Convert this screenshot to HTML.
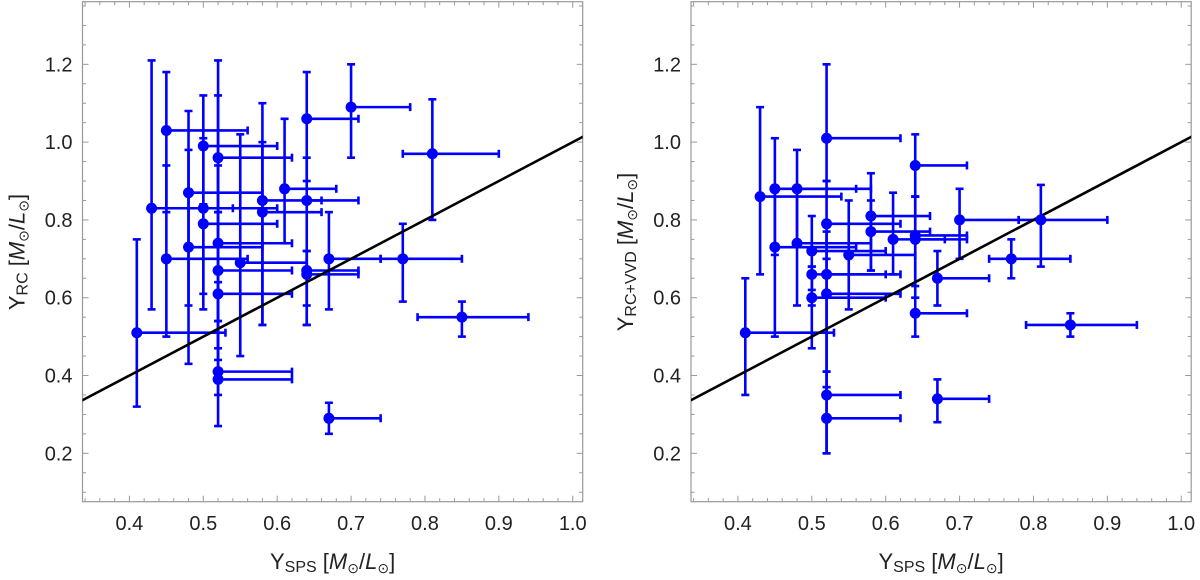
<!DOCTYPE html>
<html><head><meta charset="utf-8"><style>
html,body{margin:0;padding:0;background:#fff;}
svg{display:block;font-family:"Liberation Sans",sans-serif;}
</style></head><body>
<svg id="chart" width="1200" height="580" viewBox="0 0 1200 580"></svg>
<script>
// Left panel data
const leftX    = [0.41,0.43,0.45,0.45,0.48,0.48,0.50,0.50,0.50,0.52,0.52,0.52,0.52,0.52,0.52,0.55,0.58,0.58,0.61,0.64,0.64,0.64,0.64,0.67,0.67,0.70,0.77,0.81,0.85];
const leftY    = [0.51,0.83,1.03,0.70,0.87,0.73,0.99,0.83,0.79,0.96,0.74,0.67,0.61,0.41,0.39,0.69,0.85,0.82,0.88,1.06,0.85,0.67,0.66,0.70,0.29,1.09,0.70,0.97,0.55];
const leftYlo  = [0.32,0.57,0.82,0.50,0.58,0.43,0.84,0.57,0.61,0.82,0.54,0.47,0.44,0.35,0.27,0.45,0.53,0.53,0.74,0.90,0.58,0.53,0.53,0.57,0.25,0.96,0.59,0.80,0.50];
const leftYhi  = [0.75,1.21,1.18,0.94,1.08,0.98,1.12,1.01,0.84,1.21,0.94,1.12,0.82,0.64,0.54,1.02,1.10,1.00,1.06,1.18,0.96,0.72,0.72,0.82,0.33,1.20,0.79,1.11,0.59];
const leftXlo  = [0.41,0.43,0.45,0.45,0.48,0.48,0.50,0.50,0.50,0.52,0.52,0.52,0.52,0.52,0.52,0.55,0.58,0.58,0.61,0.64,0.64,0.64,0.64,0.67,0.67,0.70,0.74,0.77,0.79];
const leftXhi  = [0.53,0.54,0.56,0.56,0.58,0.58,0.60,0.60,0.60,0.62,0.62,0.62,0.62,0.62,0.62,0.64,0.66,0.66,0.68,0.71,0.71,0.71,0.71,0.74,0.74,0.78,0.85,0.90,0.94];
// Right panel data
const rightX   = [0.41,0.43,0.45,0.45,0.48,0.48,0.50,0.50,0.50,0.52,0.52,0.52,0.52,0.52,0.52,0.55,0.58,0.58,0.61,0.64,0.64,0.64,0.64,0.67,0.67,0.70,0.77,0.81,0.85];
const rightY   = [0.51,0.86,0.88,0.73,0.88,0.74,0.72,0.66,0.60,1.01,0.79,0.66,0.61,0.35,0.29,0.71,0.81,0.77,0.75,0.94,0.76,0.75,0.56,0.65,0.34,0.80,0.70,0.80,0.53];
const rightYlo = [0.35,0.66,0.71,0.50,0.74,0.58,0.62,0.58,0.47,0.90,0.70,0.41,0.37,0.20,0.20,0.57,0.67,0.67,0.66,0.86,0.63,0.60,0.50,0.58,0.28,0.70,0.65,0.68,0.50];
const rightYhi = [0.65,1.09,1.01,0.88,0.98,0.88,0.81,0.68,0.68,1.20,0.90,0.77,0.70,0.41,0.37,0.85,0.92,0.85,0.87,1.02,0.86,0.86,0.60,0.72,0.39,0.88,0.75,0.89,0.56];
const rightXlo = [0.41,0.43,0.45,0.45,0.48,0.48,0.50,0.50,0.50,0.52,0.52,0.52,0.52,0.52,0.52,0.55,0.58,0.58,0.61,0.64,0.64,0.64,0.64,0.67,0.67,0.70,0.74,0.78,0.79];
const rightXhi = [0.53,0.54,0.56,0.56,0.58,0.58,0.60,0.60,0.60,0.62,0.62,0.62,0.62,0.62,0.62,0.64,0.66,0.66,0.68,0.71,0.71,0.71,0.71,0.74,0.74,0.78,0.85,0.90,0.94];
const xTicks = [0.4,0.5,0.6,0.7,0.8,0.9,1.0];
const xTickLabels = ["0.4","0.5","0.6","0.7","0.8","0.9","1.0"];
const yTicks = [0.2,0.4,0.6,0.8,1.0,1.2];
const yTickLabels = ["0.2","0.4","0.6","0.8","1.0","1.2"];
const fitLine = [0.3,1.05]; // y = x

const NS="http://www.w3.org/2000/svg";
const svg=document.getElementById('chart');
function mk(tag,attrs,parent){const e=document.createElementNS(NS,tag);for(const k in attrs)e.setAttribute(k,attrs[k]);(parent||svg).appendChild(e);return e;}

const XMIN=0.3365,XMAX=1.0135,YMIN=0.0756,YMAX=1.361;
const TITLE='[</tspan><tspan font-style="italic">M</tspan><tspan font-size="14" dy="4">⊙</tspan><tspan dy="-4">/</tspan><tspan font-style="italic">L</tspan><tspan font-size="14" dy="4">⊙</tspan><tspan dy="-4">]</tspan>';
function panel(left,name,X,Y,Ylo,Yhi,Xlo,Xhi,ylabelSub){
  const L=left,R=left+500.2,T=1.7,B=501.7;
  const sx=v=>L+(v-XMIN)/(XMAX-XMIN)*(R-L);
  const sy=v=>B-(v-YMIN)/(YMAX-YMIN)*(B-T);
  const g=mk('g',{});
  
  
  const clip=mk('clipPath',{id:'c'+name},g);
  mk('rect',{x:L,y:T,width:R-L,height:B-T},clip);
  for(let i=0;i<=40;i++){const v=0.34+i*0.02; if(v>XMAX) break; const x=sx(v);
    const major=Math.abs(v*10-Math.round(v*10))<1e-6; const len=major?6:3.5;
    mk('line',{x1:x,y1:B,x2:x,y2:B-len,stroke:'#999','stroke-width':1},g);
    mk('line',{x1:x,y1:T,x2:x,y2:T+len,stroke:'#999','stroke-width':1},g);}
  for(let i=0;i<=30;i++){const v=0.1+i*0.05; if(v>YMAX) break; const y=sy(v);
    const major=Math.abs(v*5-Math.round(v*5))<1e-6; const len=major?6:3.5;
    mk('line',{x1:L,y1:y,x2:L+len,y2:y,stroke:'#999','stroke-width':1},g);
    mk('line',{x1:R,y1:y,x2:R-len,y2:y,stroke:'#999','stroke-width':1},g);}
  const fr=mk('rect',{x:L,y:T,width:R-L,height:B-T,fill:'none',stroke:'#999','stroke-width':1.2},g);
  
  
  xTicks.forEach((v,i)=>{const t=mk('text',{x:sx(v),y:530,'font-size':20,'text-anchor':'middle',fill:'#222'},g);t.textContent=xTickLabels[i];
    
    });
  yTicks.forEach((v,i)=>{const t=mk('text',{x:L-10,y:sy(v)+7,'font-size':20,'text-anchor':'end',fill:'#222'},g);t.textContent=yTickLabels[i];
    
    });
  const xt=mk('text',{x:(L+R)/2,y:569,'font-size':22,'text-anchor':'middle',fill:'#222'},g);
  xt.innerHTML='Υ<tspan font-size="16" dy="3">SPS</tspan><tspan dy="-3"> '+TITLE;
  
  
  const yt=mk('text',{x:0,y:0,'font-size':22,'text-anchor':'middle',fill:'#222',transform:`translate(${L-58},252) rotate(-90)`},g);
  yt.innerHTML='Υ<tspan font-size="16" dy="3">'+ylabelSub+'</tspan><tspan dy="-3"> '+TITLE;
  
  
  const pg=mk('g',{'clip-path':`url(#c${name})`},g);
  const blue='#0000ff';
  for(let i=0;i<X.length;i++){
    const cx=sx(X[i]),cy=sy(Y[i]);
    const eb=mk('g',{stroke:blue,'stroke-width':2.6,fill:'none'},pg);
    
    
    const y1=sy(Yhi[i]),y2=sy(Ylo[i]),x1=sx(Xlo[i]),x2=sx(Xhi[i]);
    mk('line',{x1:cx,y1:y1,x2:cx,y2:y2},eb);
    mk('line',{x1:cx-4,y1:y1,x2:cx+4,y2:y1},eb);
    mk('line',{x1:cx-4,y1:y2,x2:cx+4,y2:y2},eb);
    mk('line',{x1:x1,y1:cy,x2:x2,y2:cy},eb);
    mk('line',{x1:x1,y1:cy-4,x2:x1,y2:cy+4},eb);
    mk('line',{x1:x2,y1:cy-4,x2:x2,y2:cy+4},eb);
  }
  const line=mk('line',{x1:sx(fitLine[0]),y1:sy(fitLine[0]),x2:sx(fitLine[1]),y2:sy(fitLine[1]),stroke:'#000','stroke-width':2.6},pg);
  
  
  for(let i=0;i<X.length;i++){
    const c=mk('circle',{cx:sx(X[i]),cy:sy(Y[i]),r:5.5,fill:blue},pg);
    
    
  }
}
panel(82.5,'left-panel',leftX,leftY,leftYlo,leftYhi,leftXlo,leftXhi,'RC');
panel(691,'right-panel',rightX,rightY,rightYlo,rightYhi,rightXlo,rightXhi,'RC+VVD');
</script>
</body></html>
